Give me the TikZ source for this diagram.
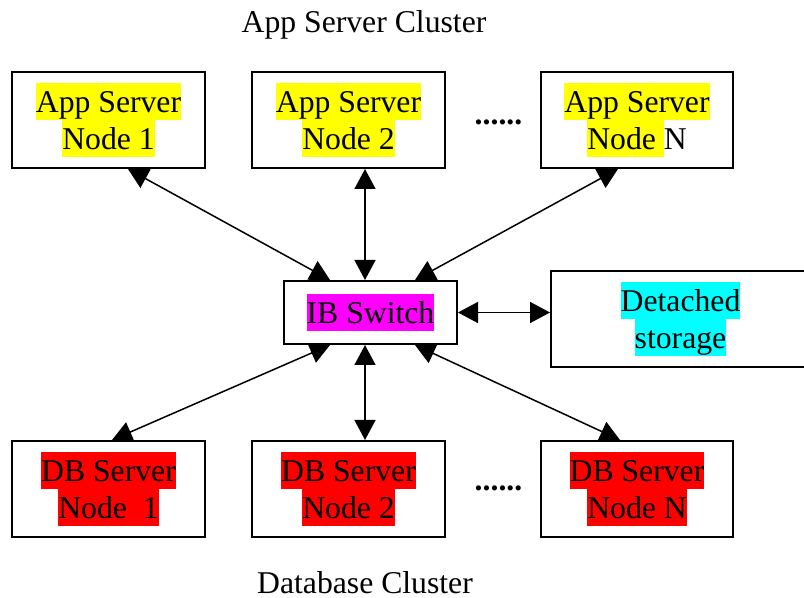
\documentclass[tikz,border=0pt]{standalone}
\usepackage{fontspec}
\setmainfont{Liberation Serif}
\usetikzlibrary{arrows.meta}
\setlength{\fboxsep}{0pt}
\definecolor{hlyellow}{RGB}{255,255,0}
\definecolor{hlmagenta}{RGB}{255,0,255}
\definecolor{hlcyan}{RGB}{0,255,255}
\definecolor{hlred}{RGB}{255,0,0}
\newcommand{\hlstrut}{\rule[-3.75pt]{0pt}{18.5pt}}
\newcommand{\hlt}[2]{\colorbox{#1}{\hlstrut #2}}
\begin{document}
\begin{tikzpicture}[x=0.5pt,y=-0.5pt,
  font=\fontsize{15.85}{18.5}\selectfont,
  box/.style={draw, line width=1pt, inner sep=0pt, align=center,
    minimum width=96.5pt, minimum height=48pt},
  arr/.style={line width=0.75pt,
    {Triangle[length=10pt,width=10.5pt]}-{Triangle[length=10pt,width=10.5pt]}},
  lbl/.style={anchor=base, inner sep=0pt}]
\useasboundingbox (0,0) rectangle (804,598);
% titles
\node[lbl] (t1) at (364,33) {App Server Cluster};
\node[lbl] (t2) at (365,594) {Database Cluster};
% app servers
\node[box] (a1) at (108.5,120) {\hlt{hlyellow}{App Server}\\\hlt{hlyellow}{Node 1}};
\node[box] (a2) at (348.5,120) {\hlt{hlyellow}{App Server}\\\hlt{hlyellow}{Node 2}};
\node[box, minimum width=96pt] (a3) at (637,120) {\hlt{hlyellow}{App Server}\\\hlt{hlyellow}{Node\ }N};
\node[lbl] (e1) at (498.5,125) {\textbf{......}};
% switch and storage
\node[box, minimum width=86.5pt, minimum height=31.5pt] (sw) at (370.5,312.5) {\hlt{hlmagenta}{IB Switch}};
\node[box, minimum width=129.5pt] (st) at (680.5,319) {\hlt{hlcyan}{Detached}\\\hlt{hlcyan}{storage}};
% db servers
\node[box] (d1) at (108.5,489) {\hlt{hlred}{DB Server}\\\hlt{hlred}{Node\ \ 1}};
\node[box] (d2) at (348.5,489) {\hlt{hlred}{DB Server}\\\hlt{hlred}{Node 2}};
\node[box, minimum width=96pt] (d3) at (637,489) {\hlt{hlred}{DB Server}\\\hlt{hlred}{Node N}};
\node[lbl] (e2) at (498.5,491) {\textbf{......}};
% connectors
\draw[arr] ([xshift=9.75pt]a1.south) -- ([xshift=-20.25pt]sw.north);
\draw[arr] ([xshift=8.25pt]a2.south) -- ([xshift=-2.75pt]sw.north);
\draw[arr] ([xshift=-9.5pt]a3.south) -- ([xshift=22.25pt]sw.north);
\draw[arr] (sw.east) -- (st.west |- sw.east);
\draw[arr] ([xshift=-20.25pt]sw.south) -- ([xshift=1.75pt]d1.north);
\draw[arr] ([xshift=-2.75pt]sw.south) -- ([xshift=8.25pt]d2.north);
\draw[arr] ([xshift=22.25pt]sw.south) -- ([xshift=-8.5pt]d3.north);
\end{tikzpicture}
\end{document}
